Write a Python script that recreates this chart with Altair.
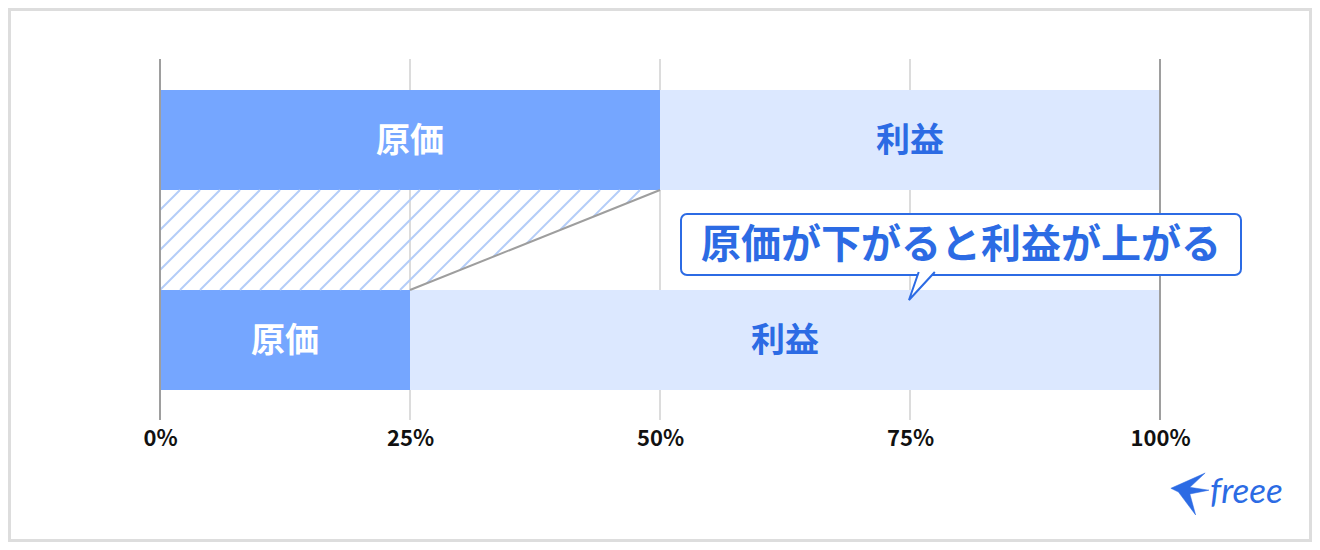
import altair as alt
import pandas as pd
import numpy as np

# ---- data ----
tick_values = [0, 25, 50, 75, 100]
row_names = ["before", "after"]
row_top = [0, 2]            # row position (top of each bar)
cost_share = [50, 25]       # 原価 %
profit_share = [50, 75]     # 利益 %
seg_names = ["原価", "利益"]
callout_text = "原価が下がると利益が上がる"
logo_text = "freee"

BLUE = "#2c6be4"
COST = "#75a6ff"
PROFIT = "#dce8ff"
HATCH = "#b4cdf8"
GRID_LIGHT = "#dcdcdc"
GRID_DARK = "#9e9e9e"
FONT = "Noto Sans CJK JP"

W, H = 1000, 361
XDOM = [0, 100]
YDOM = [-0.31, 3.3]
x_scale = alt.Scale(domain=XDOM, nice=False, zero=False)
y_scale = alt.Scale(domain=YDOM, reverse=True, nice=False, zero=False)

xaxis = alt.Axis(values=tick_values, labelExpr="datum.value + '%'", grid=False, domain=False,
                 ticks=False, labelFontSize=22, labelFontWeight="bold", labelColor="#111111",
                 labelFont=FONT, labelPadding=8, labelFlush=False, title=None)

def X(field):
    return alt.X(field, scale=x_scale, axis=xaxis)

def Y(field):
    return alt.Y(field, scale=y_scale, axis=None)

# bars
bar_rows = []
for i, r in enumerate(row_names):
    c = cost_share[i]
    p = profit_share[i]
    bar_rows.append(dict(row=r, seg=seg_names[0], x=0, x2=c, y=row_top[i], y2=row_top[i] + 1,
                         fill=COST, tcol="white", xc=c / 2, yc=row_top[i] + 0.5))
    bar_rows.append(dict(row=r, seg=seg_names[1], x=c, x2=c + p, y=row_top[i], y2=row_top[i] + 1,
                         fill=PROFIT, tcol=BLUE, xc=c + p / 2, yc=row_top[i] + 0.5))
bars_df = pd.DataFrame(bar_rows)

# hatch trapezoid between the two bars (pixel-space stripes at 45 degrees)
px_x = W / (XDOM[1] - XDOM[0])
px_y = H / (YDOM[1] - YDOM[0])
def to_px(xd, yd):
    return (xd - XDOM[0]) * px_x, (yd - YDOM[0]) * px_y
def to_data(Xp, Yp):
    return Xp / px_x + XDOM[0], Yp / px_y + YDOM[0]

yt_d = row_top[0] + 1
yb_d = row_top[1]
Xl, Yt = to_px(0, yt_d)
Xa, _ = to_px(cost_share[0], yt_d)
Xb, Yb = to_px(cost_share[1], yb_d)
s = (Xb - Xa) / (Yb - Yt)
spacing = 20.0
c0 = Xl + Yb
stripes = []
for k in range(-10, 60):
    c = c0 + spacing * k
    Xs = c - Yt
    if Xs <= Xl + 0.5 or Xs >= Xa - 0.5:
        continue
    Ye = min(Yb, c - Xl, (c - Xa + s * Yt) / (1 + s))
    Xe = c - Ye
    x1, y1 = to_data(Xs, Yt)
    x2, y2 = to_data(Xe, Ye)
    stripes.append(dict(x=x1, y=y1, x2=x2, y2=y2))
stripes_df = pd.DataFrame(stripes)

slant_df = pd.DataFrame([dict(x=cost_share[0], y=yt_d, x2=cost_share[1], y2=yb_d)])

grid_df = pd.DataFrame(dict(pos=tick_values,
                            col=[GRID_DARK if v in (0, 100) else GRID_LIGHT for v in tick_values]))

callout_df = pd.DataFrame([dict(x=52.1, x2=108.1, y=1.24, y2=1.85, xc=80.1, yc=1.545, text=callout_text)])
tail_df = pd.DataFrame([dict(x=76.1, y=1.96)])
one = pd.DataFrame({"a": [0]})

# ---- layers ----
grid_light = alt.Chart(grid_df[grid_df.col == GRID_LIGHT]).mark_rule(strokeWidth=2).encode(
    x=X("pos:Q"),
    color=alt.Color("col:N", scale=None),
)

bars = alt.Chart(bars_df).mark_rect().encode(
    x=X("x:Q"), x2="x2:Q", y=Y("y:Q"), y2="y2:Q",
    fill=alt.Fill("fill:N", scale=None),
)

hatch = alt.Chart(stripes_df).mark_rule(strokeWidth=2, color=HATCH).encode(
    x=X("x:Q"), x2="x2:Q", y=Y("y:Q"), y2="y2:Q",
)

slant = alt.Chart(slant_df).mark_rule(strokeWidth=2, color=GRID_DARK).encode(
    x=X("x:Q"), x2="x2:Q", y=Y("y:Q"), y2="y2:Q",
)

grid_dark = alt.Chart(grid_df[grid_df.col == GRID_DARK]).mark_rule(strokeWidth=2).encode(
    x=X("pos:Q"),
    color=alt.Color("col:N", scale=None),
)

labels = alt.Chart(bars_df).mark_text(font=FONT, fontSize=34, fontWeight="bold",
                                      align="center", baseline="middle", dy=2).encode(
    x=X("xc:Q"), y=Y("yc:Q"),
    text="seg:N",
    color=alt.Color("tcol:N", scale=None),
)

callout_box = alt.Chart(callout_df).mark_rect(fill="white", stroke=BLUE, strokeWidth=2,
                                              cornerRadius=6).encode(
    x=X("x:Q"), x2="x2:Q", y=Y("y:Q"), y2="y2:Q",
)

tail = alt.Chart(tail_df).mark_point(
    shape="M -0.144 -0.875 L -0.75 0.875 L 0.8625 -0.875",
    size=1024, fill="white", stroke=BLUE, strokeWidth=2, opacity=1, filled=False,
    fillOpacity=1, strokeOpacity=1,
).encode(x=X("x:Q"), y=Y("y:Q"))

callout_txt = alt.Chart(callout_df).mark_text(font=FONT, fontSize=40, fontWeight="bold",
                                              color=BLUE, align="center", baseline="middle",
                                              dy=1).encode(
    x=X("xc:Q"), y=Y("yc:Q"),
    text="text:N",
)

bird = alt.Chart(one).mark_point(
    shape="M -0.857 -0.286 L 0.857 -1.048 L 0.095 -0.333 L 1.048 -0.19 L 0.095 0 L 0.381 1.048 L -0.476 -0.095 Z",
    size=1600, fill=BLUE, stroke=BLUE, strokeWidth=0.5, opacity=1, filled=True,
).encode(x=alt.value(1028), y=alt.value(435))

logo = alt.Chart(one).mark_text(text=logo_text, font="Lato", fontStyle="italic", fontSize=35,
                                color=BLUE, align="left", baseline="alphabetic").encode(
    x=alt.value(1050), y=alt.value(444))

frame = alt.Chart(one).mark_rect(filled=False, stroke="#dddddd", strokeWidth=3).encode(
    x=alt.value(-150.5), x2=alt.value(1150.5), y=alt.value(-49.5), y2=alt.value(481.5))

chart = alt.layer(
    grid_light, bars, hatch, slant, grid_dark, labels,
    callout_box, tail, callout_txt, bird, logo, frame,
).properties(
    width=W, height=H,
    autosize=alt.AutoSizeParams(type="none"),
    padding={"left": 152, "top": 51, "right": 152, "bottom": 122},
    background="white",
).configure_view(stroke=None)

chart.save("out.html", embed_options={"renderer": "svg", "actions": False})
